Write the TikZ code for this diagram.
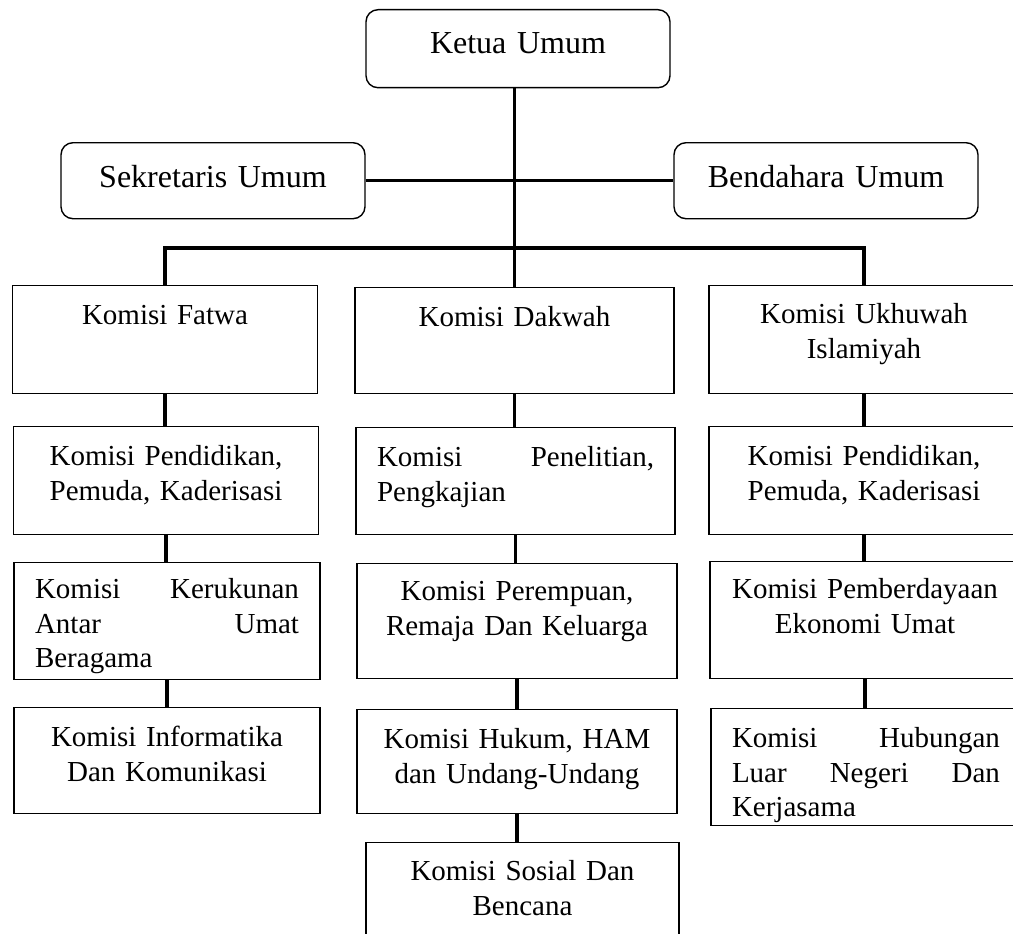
\documentclass[tikz,border=0pt]{standalone}
\usepackage{fontspec}
\setmainfont{Liberation Serif}

\tikzset{
    atas/.style={draw, line width=1.4pt, rounded corners=12pt, anchor=north,
        inner sep=0pt, align=center, text width=304pt,
        font=\fontsize{32}{36}\selectfont},
    komisi/.style={draw, line width=1.4pt, anchor=north, inner xsep=21pt,
        inner ysep=0pt, align=center, text height=39pt,
        font=\fontsize{29}{34.5}\selectfont},
    garis/.style={line width=3.4pt}
}

\begin{document}
\begin{tikzpicture}[x=1pt, y=-1pt]
        \useasboundingbox (0,0) rectangle (1013,934);

        % Pimpinan
        \node[atas, text height=44pt, text depth=34pt] (ketua) at (518,9) {Ketua Umum};
        \node[atas, text height=45pt, text depth=31pt] (sekretaris) at (213,142) {Sekretaris Umum};
        \node[atas, text height=45pt, text depth=31pt] (bendahara) at (826,142) {Bendahara Umum};

        % Colonne gauche
        \node[komisi, text width=263pt, text depth=69pt] (fatwa) at (165,285) {Komisi Fatwa};
        \node[komisi, text width=263pt, text depth=69pt] (pendidikanA) at (166,426) {Komisi Pendidikan,\\Pemuda, Kaderisasi};
        \node[komisi, text width=264pt, text height=36pt, text depth=81pt, align=left] (kerukunan) at (167,562)
            {Komisi\hfill Kerukunan\\Antar\hfill Umat\\Beragama};
        \node[komisi, text width=264pt, text depth=67pt] (informatika) at (167,707) {Komisi Informatika\\Dan Komunikasi};

        % Colonne du milieu
        \node[komisi, text width=277pt, text depth=67pt] (dakwah) at (514.5,287) {Komisi Dakwah};
        \node[komisi, text width=277pt, text depth=68pt, align=left] (penelitian) at (515.5,427)
            {Komisi\hfill Penelitian,\\Pengkajian};
        \node[komisi, text width=278pt, text height=37pt, text depth=78pt] (perempuan) at (517,563) {Komisi Perempuan,\\Remaja Dan Keluarga};
        \node[komisi, text width=278pt, text depth=65pt] (hukum) at (517,709) {Komisi Hukum, HAM\\dan Undang-Undang};
        \node[komisi, text width=271pt, text height=38pt, text depth=72pt] (sosial) at (522.5,842) {Komisi Sosial Dan\\Bencana};

        % Colonne droite
        \node[komisi, text width=268pt, text height=38pt, text depth=70pt] (ukhuwah) at (864,285) {Komisi Ukhuwah\\Islamiyah};
        \node[komisi, text width=268pt, text depth=69pt] (pendidikanB) at (864,426) {Komisi Pendidikan,\\Pemuda, Kaderisasi};
        \node[komisi, text width=268pt, text height=37pt, text depth=80pt] (pemberdayaan) at (865,561) {Komisi Pemberdayaan\\Ekonomi Umat};
        \node[komisi, text width=268pt, text depth=78pt, align=left] (hubungan) at (866,708)
            {Komisi\hfill Hubungan\\Luar\hfill Negeri\hfill Dan\\Kerjasama};

        % Liaisons
        \coordinate (bus) at (514,248);
        \draw[garis] (dakwah.north |- ketua.south) -- (dakwah.north);
        \draw[garis] (sekretaris.east) -- (bendahara.west);
        \draw[garis] (fatwa.north) |- (bus) -| (ukhuwah.north);
        \foreach \a/\b in {fatwa/pendidikanA, pendidikanA/kerukunan, kerukunan/informatika,
                dakwah/penelitian, penelitian/perempuan, perempuan/hukum, hukum/sosial,
                ukhuwah/pendidikanB, pendidikanB/pemberdayaan, pemberdayaan/hubungan}
            \draw[garis] (\a.south) -- (\a.south |- \b.north);
    \end{tikzpicture}
\end{document}
